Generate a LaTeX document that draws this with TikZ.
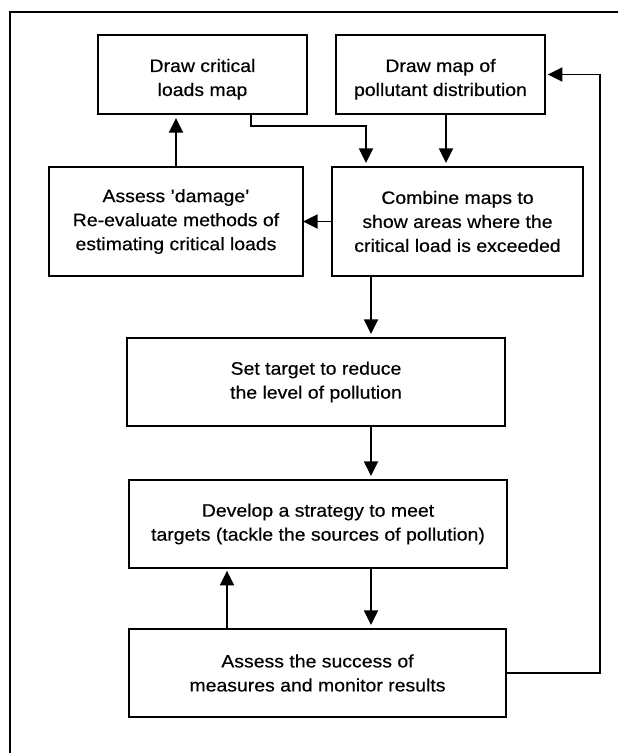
\documentclass[tikz,border=0pt]{standalone}
\usepackage{fontspec}
\setmainfont{Liberation Sans}[FakeStretch=1.08,FakeBold=0.4]
\usetikzlibrary{arrows.meta}
\newcommand{\lowstrut}{\rule{0pt}{17pt}}
\begin{document}
\begin{tikzpicture}[x=0.75pt,y=-0.75pt,
  stage/.style={draw,line width=1.4pt,inner sep=0pt,outer sep=0pt,align=center,
    font=\fontsize{13.5}{18}\selectfont},
  flow/.style={line width=1.4pt,-{Triangle[length=11pt,width=10.5pt]},shorten >=3pt},
  frame/.style={line width=1.5pt}]
  \useasboundingbox (0,0) rectangle (618,753);
  \coordinate (c) at (251,126);
  \coordinate (d) at (366,0);
  \coordinate (e) at (446,0);
  \coordinate (spine) at (371,0);
  \coordinate (back) at (227,0);
  \coordinate (loop) at (600,0);

  \draw[frame] (10,753) -- (10,12) -- (618,12);

  \node[stage,minimum width=156.75pt,minimum height=59.25pt] (crit) at (202.5,74.5)
    {\lowstrut Draw critical\\loads map};
  \node[stage,minimum width=156.75pt,minimum height=59.25pt] (poll) at (440.5,74.5)
    {\lowstrut Draw map of\\pollutant distribution};
  \node[stage,minimum width=190.5pt,minimum height=81.75pt] (damage) at (176,221.5)
    {Assess 'damage'\\Re-evaluate methods of\\estimating critical loads};
  \node[stage,minimum width=188.25pt,minimum height=81.75pt] (combine) at (457.5,221.5)
    {Combine maps to\\show areas where the\\critical load is exceeded};
  \node[stage,minimum width=283.5pt,minimum height=66pt] (target) at (316,382)
    {Set target to reduce\\the level of pollution};
  \node[stage,minimum width=283.5pt,minimum height=66pt] (develop) at (318,524)
    {Develop a strategy to meet\\targets (tackle the sources of pollution)};
  \node[stage,minimum width=282.75pt,minimum height=66pt] (success) at (317.5,673)
    {Assess the success of\\measures and monitor results};

  \draw[flow] (crit.south -| c) -- (c) -| (combine.north -| d);
  \draw[flow] (poll.south -| e) -- (combine.north -| e);
  \draw[flow] (damage.north) -- (damage.north |- crit.south);
  \draw[flow,shorten >=0pt] (combine.west) -- (damage.east);
  \draw[flow] (combine.south -| spine) -- (target.north -| spine);
  \draw[flow] (target.south -| spine) -- (develop.north -| spine);
  \draw[flow] (develop.south -| spine) -- (success.north -| spine);
  \draw[flow,shorten >=2pt] (success.north -| back) -- (develop.south -| back);
  \draw[flow,shorten >=2pt] (success.east) -| (loop |- poll.east) -- (poll.east);
\end{tikzpicture}
\end{document}
